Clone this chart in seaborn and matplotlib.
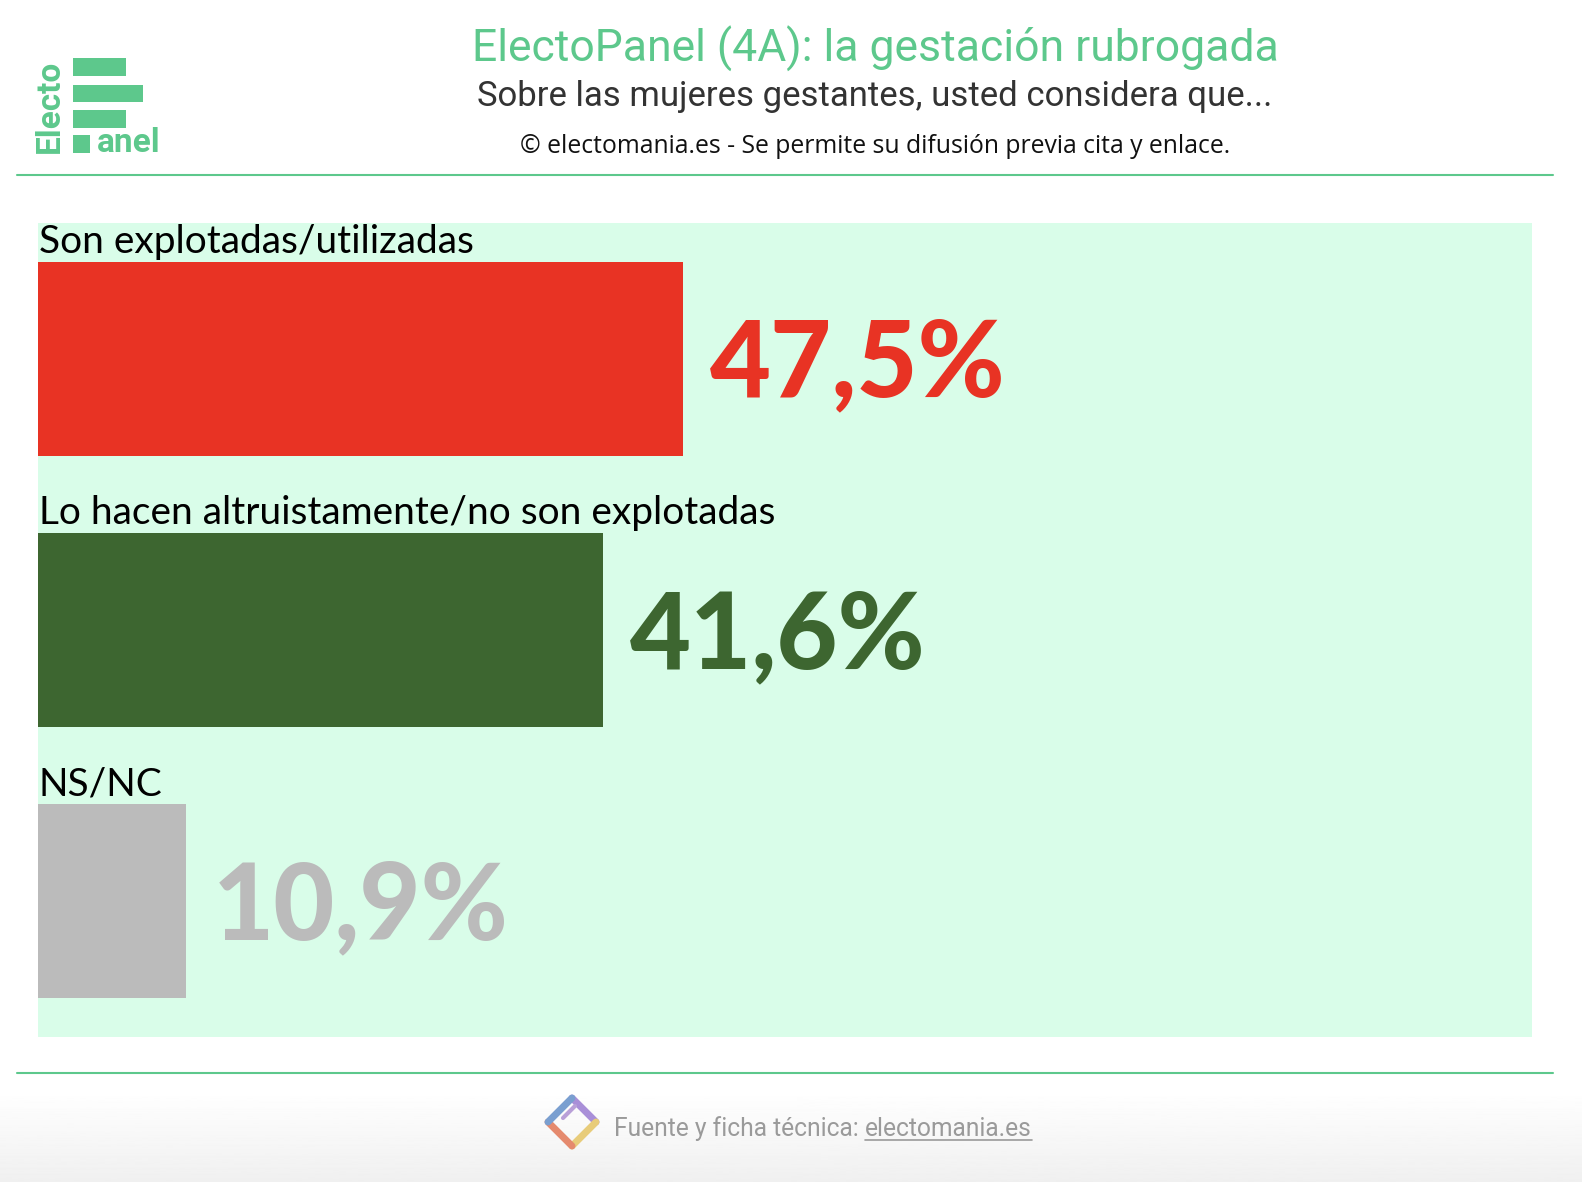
import numpy as np
import matplotlib
matplotlib.use("Agg")
import matplotlib.pyplot as plt
import matplotlib.patches as mpatches
import seaborn as sns

# ── data
categories = ["Son explotadas/utilizadas",
              "Lo hacen altruistamente/no son explotadas",
              "NS/NC"]
values = [47.5, 41.6, 10.9]
value_labels = ["47,5%", "41,6%", "10,9%"]
bar_colors = ["#e83324", "#3d6630", "#bbbbbb"]

title = "ElectoPanel (4A): la gestación rubrogada"
subtitle = "Sobre las mujeres gestantes, usted considera que..."
credit = "© electomania.es - Se permite su difusión previa cita y enlace."
footer = "Fuente y ficha técnica: "
footer_link = "electomania.es"

GREEN = "#5dc88c"
BG = "#d9fde9"
W, H = 1582, 1182

sns.set_style("white")
plt.rcParams["font.family"] = ["Lato", "DejaVu Sans"]

fig = plt.figure(figsize=(W / 100, H / 100), dpi=100)
fig.patch.set_facecolor("white")


def fx(px):
    return px / W


def fy(py):
    return 1 - py / H


# ── main bar panel
ax = fig.add_axes([fx(38), fy(1037), fx(1532 - 38), (1037 - 223) / H])
ax.set_facecolor(BG)
sns.barplot(x=values, y=categories, hue=categories, palette=bar_colors,
            orient="h", width=0.715, legend=False, saturation=1,
            linewidth=0, ax=ax)
ax.set_xlim(0, 110)
ax.set_ylim(2.5, -0.5)
ax.set_xlabel("")
ax.set_ylabel("")
ax.set_xticks([])
ax.set_yticks([])
for s in ax.spines.values():
    s.set_visible(False)

for i, (cat, val, lab, col) in enumerate(zip(categories, values,
                                             value_labels, bar_colors)):
    ax.text(0.05, i - 0.3575 - 0.033, cat, fontsize=28, color="black",
            va="baseline", ha="left")
    ax.text(val + 2.0, i + 0.14, lab, fontsize=76, fontweight="black",
            color=col, va="baseline", ha="left")

# ── header
fig.text(fx(875), fy(62), title, fontsize=32, color=GREEN,
         family="Roboto", ha="center", va="baseline")
fig.text(fx(875), fy(106), subtitle, fontsize=25, color="#333333",
         family="Roboto", ha="center", va="baseline")
fig.text(fx(875), fy(153), credit, fontsize=17.8, color="#111111",
         family="Open Sans", ha="center", va="baseline")

# separator lines
for yy in (175, 1073):
    fig.add_artist(plt.Line2D([fx(17), fx(1553)], [fy(yy), fy(yy)],
                              color=GREEN, lw=1.5))

# ── logo
for (x0, y0, x1, y1) in [(73, 58, 126, 76), (73, 85, 143, 102),
                         (73, 110, 126, 128), (73, 135, 90, 153)]:
    fig.add_artist(mpatches.Rectangle((fx(x0), fy(y1)), fx(x1 - x0),
                                      (y1 - y0) / H, color=GREEN, lw=0))
fig.text(fx(66), fy(153), "Electo", fontsize=24, fontweight="bold",
         color=GREEN, family="Roboto", rotation=90, ha="right",
         va="bottom")
fig.text(fx(97), fy(152), "anel", fontsize=24, fontweight="bold",
         color=GREEN, family="Roboto", ha="left", va="baseline")

# ── footer gradient
fax = fig.add_axes([0, 0, 1, (H - 1090) / H])
grad = np.linspace(1.0, 0.94, 100).reshape(-1, 1)
fax.imshow(grad, aspect="auto", cmap="gray", vmin=0, vmax=1,
           extent=[0, 1, 0, 1], origin="upper")
fax.axis("off")

# footer icon (approximate diamond)
icon_cx, icon_cy = 572, 1122
half = 24
pts = [(icon_cx, icon_cy - half), (icon_cx + half, icon_cy),
       (icon_cx, icon_cy + half), (icon_cx - half, icon_cy)]
edge_cols = ["#a98fd8", "#e8cc7a", "#e58a6e", "#7a9fd0"]
for k in range(4):
    p0, p1 = pts[k], pts[(k + 1) % 4]
    fig.add_artist(plt.Line2D([fx(p0[0]), fx(p1[0])],
                              [fy(p0[1]), fy(p1[1])],
                              color=edge_cols[k], lw=5,
                              solid_capstyle="round"))
fig.add_artist(plt.Line2D([fx(563), fx(575)], [fy(1118), fy(1106)],
                          color="#b9a0d8", lw=3))

ft = fig.text(fx(614), fy(1136), footer, fontsize=17.7, color="#9a9a9a",
              family="Roboto", ha="left", va="baseline")
fig.canvas.draw()
bb = ft.get_window_extent()
x_link = bb.x1 / W
lt = fig.text(x_link, fy(1136), footer_link, fontsize=17.7,
              color="#9a9a9a", family="Roboto", ha="left",
              va="baseline")
fig.canvas.draw()
lb = lt.get_window_extent()
fig.add_artist(plt.Line2D([lb.x0 / W, lb.x1 / W],
                          [fy(1140), fy(1140)], color="#9a9a9a", lw=1.2))

fig.savefig("out.png", dpi=100, facecolor="white")
